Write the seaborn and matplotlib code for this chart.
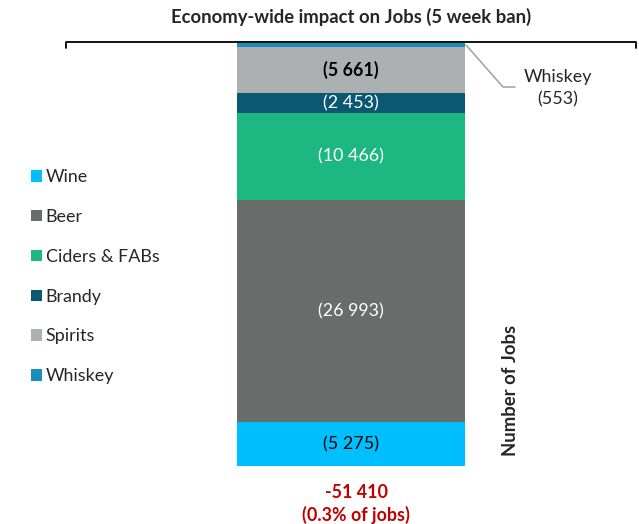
import matplotlib
matplotlib.use("Agg")
import matplotlib.pyplot as plt
import seaborn as sns
from matplotlib.patches import Patch
from matplotlib.lines import Line2D

sns.set_style("white")
plt.rcParams['font.family'] = ['Lato', 'DejaVu Sans']

# data (jobs lost, 5 week ban)
categories = ['Wine', 'Beer', 'Ciders & FABs', 'Brandy', 'Spirits', 'Whiskey']
jobs = [5275, 26993, 10466, 2453, 5661, 553]
colors = ['#00BFFF', '#686C6B', '#1DB881', '#0B5872', '#ADB0B1', '#1A8DBA']
label_colors = ['black', 'white', 'white', 'white', 'black', None]
label_weight = ['normal', 'normal', 'normal', 'normal', 'bold', 'normal']
total_label = '-51 410\n(0.3% of jobs)'

W, H = 639, 524
fig = plt.figure(figsize=(W / 100, H / 100), dpi=100)

def fx(px):
    return px / W

def fy(py):
    return 1 - py / H

FS = 12.9

# axes holds the stacked bar only
ax = fig.add_axes([fx(237), fy(466), fx(465) - fx(237), fy(42) - fy(466)])
bottom = 0
for cat, val, col, lc, lw in zip(categories, jobs, colors, label_colors, label_weight):
    sns.barplot(x=[0], y=[val], bottom=bottom, color=col, width=1.0,
                saturation=1, ax=ax, linewidth=0)
    if lc is not None:
        ax.text(0, bottom + val / 2, f'({val:,})'.replace(',', ' '),
                ha='center', va='center', color=lc, fontsize=FS, fontweight=lw)
    bottom += val
ax.set_xlim(-0.5, 0.5)
ax.set_ylim(0, bottom)
ax.axis('off')

# title and bracket
fig.text(fx(351), fy(17), 'Economy-wide impact on Jobs (5 week ban)',
         ha='center', va='center', fontsize=13.3, fontweight='bold')
fig.add_artist(Line2D([fx(66), fx(66), fx(636), fx(636)],
                      [fy(48), fy(42), fy(42), fy(48)],
                      color='black', lw=1.3, transform=fig.transFigure))

# whiskey callout
fig.add_artist(Line2D([fx(466), fx(503), fx(515)], [fy(45), fy(87), fy(87)],
                      color='#A6A6A6', lw=1.2, transform=fig.transFigure))
fig.text(fx(558), fy(88), f'Whiskey\n({jobs[-1]})', ha='center', va='center',
         fontsize=FS, linespacing=1.5)

# axis label on the right
fig.text(fx(510), fy(390), 'Number of Jobs', rotation=90, ha='center', va='center',
         fontsize=13.3, fontweight='bold')

# total below the bar
fig.text(fx(356), fy(504), total_label, ha='center', va='center', color='#C00000',
         fontsize=FS, fontweight='bold', linespacing=1.3)

# legend
handles = [Patch(facecolor=c, edgecolor='none', label=l) for l, c in zip(categories, colors)]
fig.legend(handles=handles, loc='upper left', bbox_to_anchor=(fx(24), fy(162)),
           frameon=False, fontsize=FS, handlelength=0.62, handleheight=0.62,
           handletextpad=0.2, labelspacing=1.33, borderaxespad=0)

fig.savefig('out.png', dpi=100)
